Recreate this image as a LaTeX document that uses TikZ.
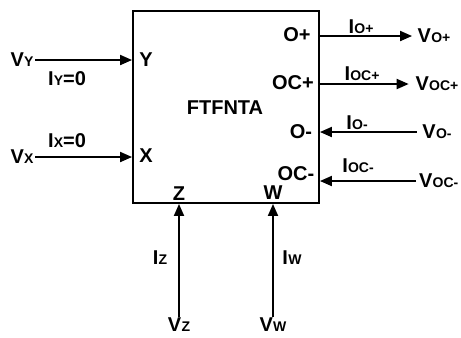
\documentclass[tikz,border=0pt]{standalone}
\usepackage{fontspec}
\setmainfont{Liberation Sans}
\usepackage{tikz}
\usetikzlibrary{arrows.meta,positioning}

\newcommand{\lbl}[2]{#1\kern0.2pt{\fontsize{10.5}{11}\selectfont #2}}

\begin{document}
\begin{tikzpicture}[x=0.75pt,y=-0.75pt,
  every node/.style={font=\fontsize{15}{17}\selectfont\bfseries, inner sep=1pt},
  wire/.style={line width=1.4pt, -{Triangle[length=9pt,width=7.5pt]}},
  block/.style={draw, line width=1.4pt, minimum width=139.5pt, minimum height=144pt}]
\useasboundingbox (0,0) rectangle (461,337);
\node[block] (box) at (226,107) {};
\node at (225,108) (name) {FTFNTA};
% ports
\node (y) at (146,60) {Y};
\node (x) at (146,156) {X};
\node (z) at (179,194) {Z};
\node (w) at (273,193) {W};
\node (op) at (297,35) {O+};
\node (ocp) at (293,83) {OC+};
\node (om) at (301,132) {O-};
\node (ocm) at (296,174) {OC-};
% voltages
\node (vy) at (22,60) {\lbl{V}{Y}};
\node (vx) at (22,157) {\lbl{V}{X}};
\node (vz) at (179,325) {\lbl{V}{Z}};
\node (vw) at (273,325) {\lbl{V}{W}};
\node (vop) at (434,36) {\lbl{V}{O+}};
\node[anchor=east] (vocp) at (460,84) {\lbl{V}{OC+}};
\node (vom) at (437,132) {\lbl{V}{O-}};
\node[anchor=east] (vocm) at (460,181) {\lbl{V}{OC-}};
% currents
\node (iy) at (67,79) {\lbl{I}{Y}=0};
\node (ix) at (67,141) {\lbl{I}{X}=0};
\node (iz) at (160,258) {\lbl{I}{Z}};
\node (iw) at (292,258) {\lbl{I}{W}};
\node (iop) at (361,27) {\lbl{I}{O+}};
\node (iocp) at (362,74) {\lbl{I}{OC+}};
\node (iom) at (357,123) {\lbl{I}{O-}};
\node (iocm) at (358,166) {\lbl{I}{OC-}};
% connectors
\draw[wire] (vy.east) -- (box.west |- vy);
\draw[wire] (vx.east) -- (box.west |- vx);
\draw[wire] (vz.north) -- (box.south -| vz);
\draw[wire] (vw.north) -- (box.south -| vw);
\draw[wire] (box.east |- vop) -- ([xshift=-3pt]vop.west);
\draw[wire] (box.east |- vocp) -- ([xshift=-4pt]vocp.west);
\draw[wire] ([xshift=-3pt]vom.west) -- (box.east |- vom);
\draw[wire] ([xshift=-1pt]vocm.west) -- (box.east |- vocm);
\end{tikzpicture}
\end{document}
